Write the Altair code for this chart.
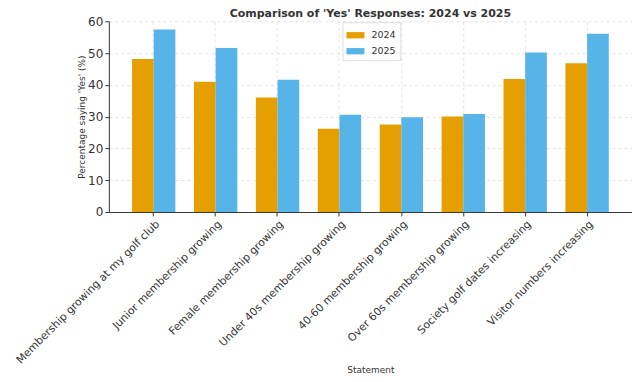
import altair as alt
import pandas as pd

statements = [
    "Membership growing at my golf club",
    "Junior membership growing",
    "Female membership growing",
    "Under 40s membership growing",
    "40-60 membership growing",
    "Over 60s membership growing",
    "Society golf dates increasing",
    "Visitor numbers increasing",
]
yes_2024 = [48.1, 41.0, 36.0, 26.2, 27.5, 30.0, 41.8, 46.8]
yes_2025 = [57.4, 51.6, 41.6, 30.6, 29.8, 30.8, 50.2, 56.1]
years = ["2024", "2025"]
colors = ["#E69F00", "#56B4E9"]

rows = []
for s, a, b in zip(statements, yes_2024, yes_2025):
    rows.append({"Statement": s, "Year": "2024", "Value": a})
    rows.append({"Statement": s, "Year": "2025", "Value": b})
df = pd.DataFrame(rows)

font = "DejaVu Sans"

chart = alt.Chart(df).mark_bar().encode(
    x=alt.X(
        "Statement:N",
        sort=statements,
        scale=alt.Scale(paddingInner=0.3, paddingOuter=0.375),
        axis=alt.Axis(
            title="Statement",
            labelAngle=-45,
            labelAlign="right",
            labelBaseline="top",
            labelFontSize=10.8,
            labelColor="#333333",
            labelFont=font,
            labelLimit=400,
            labelPadding=2,
            tickSize=4,
            tickColor="#333333",
            domainColor="#333333",
            grid=True,
            gridDash=[3, 3],
            gridColor="#e3e3e3",
            titleFontSize=9,
            titleFontWeight="normal",
            titleFont=font,
            titleColor="#333333",
            titleY=158,
            titleBaseline="middle",
        ),
    ),
    xOffset=alt.XOffset("Year:N", sort=years, scale=alt.Scale(paddingInner=0, paddingOuter=0)),
    y=alt.Y(
        "Value:Q",
        scale=alt.Scale(domain=[0, 60], nice=False),
        axis=alt.Axis(
            title="Percentage saying 'Yes' (%)",
            values=[0, 10, 20, 30, 40, 50, 60],
            labelFontSize=12,
            labelColor="#333333",
            labelFont=font,
            tickSize=4,
            tickColor="#333333",
            domainColor="#333333",
            gridDash=[3, 3],
            gridColor="#e3e3e3",
            titleFontSize=9,
            titleFontWeight="normal",
            titleFont=font,
            titleColor="#333333",
            titlePadding=1,
        ),
    ),
    color=alt.Color(
        "Year:N",
        sort=years,
        scale=alt.Scale(domain=years, range=colors),
        legend=alt.Legend(
            title=None,
            orient="none",
            legendX=234,
            legendY=1,
            symbolType="M-1,-0.35L1,-0.35L1,0.35L-1,0.35Z",
            symbolSize=324,
            symbolStrokeWidth=0,
            labelFontSize=9.5,
            labelFont=font,
            labelColor="#333333",
            strokeColor="#dddddd",
            fillColor="white",
            padding=4,
            rowPadding=2,
            labelOffset=7,
        ),
    ),
).properties(
    width=524,
    height=191,
    title=alt.TitleParams(
        "Comparison of 'Yes' Responses: 2024 vs 2025",
        fontSize=11,
        font=font,
        fontWeight="bold",
        color="#333333",
        anchor="middle",
        frame="group",
        offset=0,
        dy=4,
    ),
    autosize=alt.AutoSizeParams(type="none"),
    padding={"left": 101, "top": 13, "right": 0, "bottom": 166},
).configure_view(stroke=None)

chart.save("out.html", embed_options={"renderer": "svg", "actions": False})
